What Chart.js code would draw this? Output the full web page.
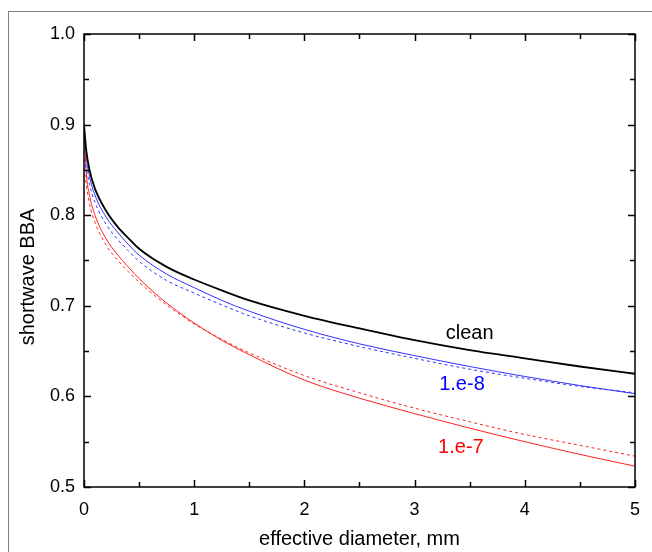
<!DOCTYPE html>
<html>
<head>
<meta charset="utf-8">
<script src="https://cdn.jsdelivr.net/npm/chart.js@4.4.1/dist/chart.umd.min.js"></script>
<style>
  body { margin: 0; background: #fff; }
  #wrap { position: relative; width: 652px; height: 552px; }
  #frame { position: absolute; left: 8px; top: 11px; right: 0; bottom: 0; border-top: 1px solid #808080; border-left: 1px solid #808080; }
  #chart { position: absolute; left: 0; top: 0; }
</style>
</head>
<body>
<div id="wrap">
  <div id="frame"></div>
  <canvas id="chart" width="652" height="552"></canvas>
</div>
<script>
// effective diameter, mm
const diameters = [0, 0.02, 0.05, 0.1, 0.2, 0.3, 0.4, 0.5, 0.75, 1, 1.25, 1.5, 2, 2.5, 3, 3.5, 4, 4.5, 5];
// shortwave BBA
const cleanBBA   = [0.900, 0.872, 0.850, 0.829, 0.805, 0.788, 0.775, 0.763, 0.743, 0.729, 0.717, 0.706, 0.689, 0.675, 0.662, 0.651, 0.642, 0.633, 0.625];
const e8Solid    = [0.900, 0.866, 0.843, 0.822, 0.798, 0.782, 0.768, 0.756, 0.735, 0.720, 0.706, 0.694, 0.674, 0.658, 0.645, 0.633, 0.622, 0.612, 0.603];
const e8Dashed   = [0.862, 0.852, 0.834, 0.814, 0.790, 0.774, 0.761, 0.749, 0.728, 0.714, 0.701, 0.689, 0.670, 0.655, 0.642, 0.630, 0.620, 0.611, 0.604];
const e7Solid    = [0.900, 0.848, 0.822, 0.800, 0.774, 0.757, 0.743, 0.730, 0.703, 0.681, 0.662, 0.646, 0.618, 0.598, 0.581, 0.565, 0.550, 0.536, 0.523];
const e7Dashed   = [0.852, 0.835, 0.812, 0.792, 0.767, 0.751, 0.738, 0.726, 0.701, 0.680, 0.663, 0.648, 0.623, 0.604, 0.587, 0.572, 0.558, 0.546, 0.534];

const curveLabels = [
  { text: 'clean', x: 3.50, y: 0.6695, color: '#000000' },
  { text: '1.e-8', x: 3.43, y: 0.613, color: '#0000ff' },
  { text: '1.e-7', x: 3.42, y: 0.544, color: '#ff0000' }
];

const FONT = '"Liberation Sans", Arial, sans-serif';

function pts(ys) {
  return diameters.map((d, i) => ({ x: d, y: ys[i] }));
}

function line(label, ys, color, width, dash) {
  return {
    label: label,
    data: pts(ys),
    borderColor: color,
    borderWidth: width,
    borderDash: dash || [],
    pointRadius: 0,
    fill: false,
    cubicInterpolationMode: 'monotone'
  };
}

// frame, inward ticks on all sides, curve labels and axis titles
const decor = {
  id: 'decor',
  afterDraw(chart) {
    const c = chart.ctx;
    const a = chart.chartArea;
    const sx = chart.scales.x, sy = chart.scales.y;
    c.save();
    c.strokeStyle = '#000';
    c.lineWidth = 1.5;
    c.strokeRect(a.left, a.top, a.right - a.left, a.bottom - a.top);
    c.beginPath();
    for (let v = 0; v <= 5.001; v += 0.5) {
      const px = Math.round(sx.getPixelForValue(v)) + 0.5;
      const len = Math.abs(v - Math.round(v)) < 1e-6 ? 7 : 5;
      c.moveTo(px, a.bottom); c.lineTo(px, a.bottom - len);
      c.moveTo(px, a.top); c.lineTo(px, a.top + len);
    }
    for (let v = 0.5; v <= 1.0001; v += 0.05) {
      const py = Math.round(sy.getPixelForValue(v)) + 0.5;
      const major = Math.abs(v * 10 - Math.round(v * 10)) < 1e-6;
      const len = major ? 7 : 5;
      c.moveTo(a.left, py); c.lineTo(a.left + len, py);
      c.moveTo(a.right, py); c.lineTo(a.right - len, py);
    }
    c.stroke();

    c.font = '20px ' + FONT;
    c.textAlign = 'center';
    c.textBaseline = 'middle';
    curveLabels.forEach(l => {
      c.fillStyle = l.color;
      c.fillText(l.text, sx.getPixelForValue(l.x), sy.getPixelForValue(l.y));
    });

    c.fillStyle = '#000';
    c.fillText('effective diameter, mm', (a.left + a.right) / 2, 539);
    c.translate(28, 277);
    c.rotate(-Math.PI / 2);
    c.fillText('shortwave BBA', 0, 0);
    c.restore();
  }
};

new Chart(document.getElementById('chart'), {
  type: 'line',
  data: {
    datasets: [
      line('clean', cleanBBA, '#000000', 1.8),
      line('1.e-8', e8Solid, '#3030ff', 1),
      line('1.e-8 dashed', e8Dashed, '#3030ff', 1, [3, 3]),
      line('1.e-7', e7Solid, '#ff2020', 1),
      line('1.e-7 dashed', e7Dashed, '#ff2020', 1, [3, 3])
    ]
  },
  options: {
    responsive: false,
    animation: false,
    layout: { padding: { left: 0, top: 34, right: 10, bottom: 0 } },
    plugins: {
      legend: { display: false },
      tooltip: { enabled: false }
    },
    scales: {
      x: {
        type: 'linear',
        min: 0,
        max: 5,
        grid: { display: false, drawTicks: false },
        border: { display: false },
        ticks: { stepSize: 1, color: '#000', padding: 12, font: { family: FONT, size: 18 } },
        afterFit(scale) { scale.height = 65; }
      },
      y: {
        min: 0.5,
        max: 1.0,
        grid: { display: false, drawTicks: false },
        border: { display: false },
        ticks: {
          stepSize: 0.1,
          color: '#000',
          padding: 9,
          font: { family: FONT, size: 18 },
          callback: v => v.toFixed(1)
        },
        afterFit(scale) { scale.width = 84; }
      }
    }
  },
  plugins: [decor]
});
</script>
</body>
</html>
